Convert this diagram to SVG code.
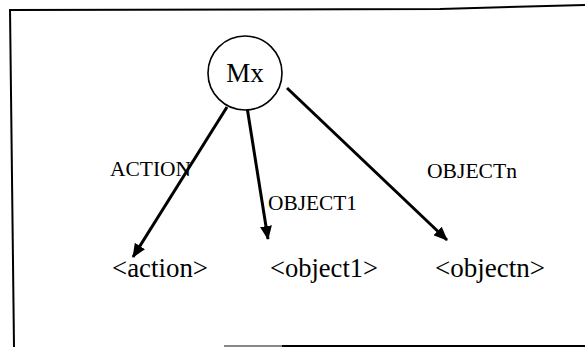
<svg xmlns="http://www.w3.org/2000/svg" width="585" height="347" viewBox="0 0 585 347">
  <style>
    .frame { fill: none; stroke: #000; stroke-width: 2; }
    .node-circle { fill: #fff; stroke: #000; stroke-width: 1.6; }
    .node-text { font-family: "Liberation Serif", "Times New Roman", serif; font-size: 27px; fill: #000; }
    .edge { fill: none; stroke: #000; stroke-width: 3; marker-end: url(#arrow); }
    .edge-label { font-family: "Liberation Serif", "Times New Roman", serif; font-size: 20px; fill: #000; }
  </style>
  <defs>
    <marker id="arrow" markerUnits="userSpaceOnUse" markerWidth="14" markerHeight="12" viewBox="0 0 14 12" refX="13" refY="6" orient="auto">
      <path d="M0,0 L14,6 L0,12 z" fill="#000"/>
    </marker>
  </defs>

  <rect width="585" height="347" fill="#fff"/>

  <!-- outer frame -->
  <g id="frame">
    <polyline class="frame" points="9,10 440,9 585,5"/>
    <line class="frame" x1="10" y1="9" x2="14" y2="347"/>
    <line x1="224" y1="346" x2="283" y2="346" stroke="#888" stroke-width="2"/>
    <line class="frame" x1="282" y1="346" x2="585" y2="346"/>
  </g>

  <!-- connectors -->
  <g id="edges">
    <path class="edge" d="M227,107 L133,257"/>
    <path class="edge" d="M247,107 L268,239"/>
    <path class="edge" d="M287,88 L447,240"/>
    <text class="edge-label" x="110" y="176" textLength="81" lengthAdjust="spacingAndGlyphs">ACTION</text>
    <text class="edge-label" x="268" y="210" textLength="89" lengthAdjust="spacingAndGlyphs">OBJECT1</text>
    <text class="edge-label" x="427" y="178" textLength="90" lengthAdjust="spacingAndGlyphs">OBJECTn</text>
  </g>

  <g id="node-mx">
    <circle class="node-circle" cx="245" cy="73" r="37"/>
    <text class="node-text" x="245" y="82" text-anchor="middle">Mx</text>
  </g>
  <g id="node-action">
    <text class="node-text" x="112" y="277" textLength="96" lengthAdjust="spacingAndGlyphs">&lt;action&gt;</text>
  </g>
  <g id="node-object1">
    <text class="node-text" x="270" y="277" textLength="108" lengthAdjust="spacingAndGlyphs">&lt;object1&gt;</text>
  </g>
  <g id="node-objectn">
    <text class="node-text" x="435" y="277" textLength="110" lengthAdjust="spacingAndGlyphs">&lt;objectn&gt;</text>
  </g>
</svg>
